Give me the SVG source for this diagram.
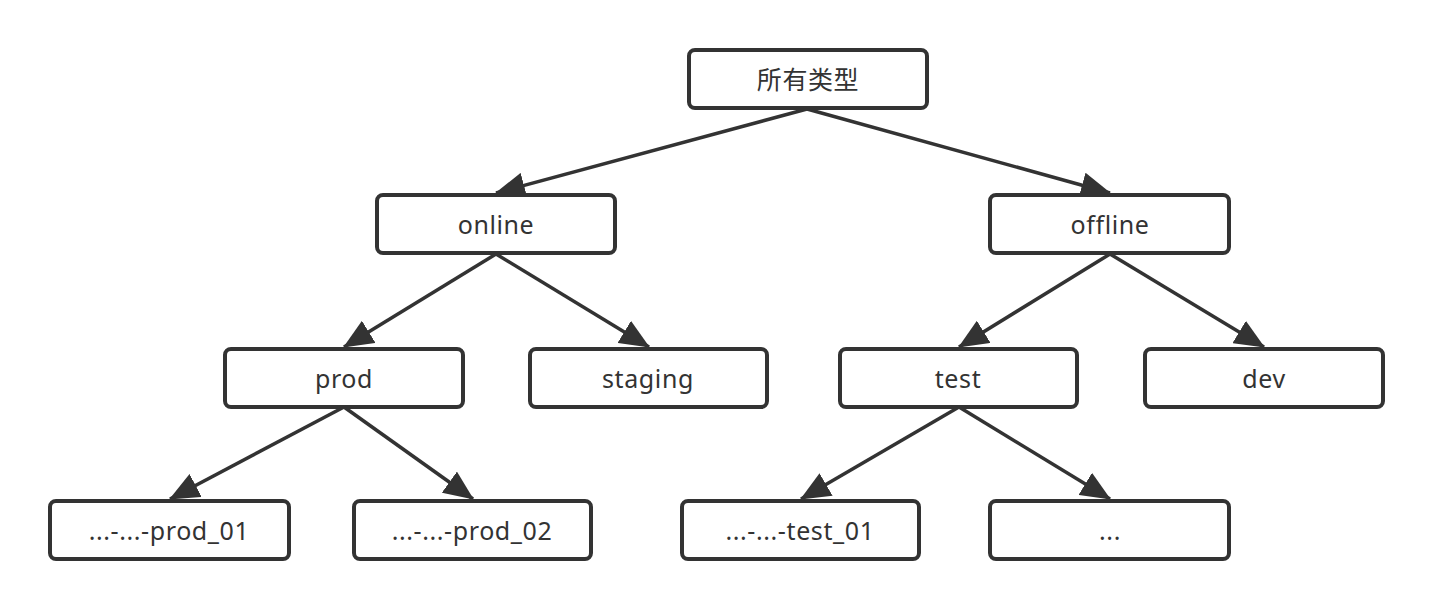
<svg xmlns="http://www.w3.org/2000/svg" width="1434" height="610" viewBox="0 0 1434 610">
<style>
.box{fill:#fff;stroke:#333;stroke-width:4}
.lbl{font-family:"Noto Sans","Noto Sans CJK SC",sans-serif;font-size:25px;letter-spacing:0.6px;fill:#333;text-anchor:middle;dominant-baseline:central}
.conn{stroke:#333;stroke-width:3.5;fill:none;marker-end:url(#arr)}
</style>
<defs>
<marker id="arr" markerUnits="userSpaceOnUse" markerWidth="30" markerHeight="26" viewBox="0 0 30 26" refX="29" refY="13" orient="auto">
<path d="M0,0 L30,13 L0,26 z" fill="#333"/>
</marker>
</defs>
<rect width="1434" height="610" fill="#fff"/>
<g id="connectors">
<line class="conn" x1="807" y1="109" x2="496" y2="193"/>
<line class="conn" x1="807" y1="109" x2="1110" y2="193"/>
<line class="conn" x1="496" y1="254" x2="344" y2="347"/>
<line class="conn" x1="496" y1="254" x2="649" y2="347"/>
<line class="conn" x1="1110" y1="254" x2="959" y2="347"/>
<line class="conn" x1="1110" y1="254" x2="1264" y2="347"/>
<line class="conn" x1="344" y1="407" x2="170" y2="499"/>
<line class="conn" x1="344" y1="407" x2="473" y2="499"/>
<line class="conn" x1="959" y1="407" x2="801" y2="499"/>
<line class="conn" x1="959" y1="407" x2="1110" y2="499"/>
</g>
<g id="root"><rect class="box" x="689" y="50" width="238" height="58" rx="6"/><text class="lbl" x="808" y="79">所有类型</text></g>
<g id="online"><rect class="box" x="377" y="195" width="238" height="58" rx="6"/><text class="lbl" x="496" y="224">online</text></g>
<g id="offline"><rect class="box" x="990" y="195" width="239" height="58" rx="6"/><text class="lbl" x="1110" y="224">offline</text></g>
<g id="prod"><rect class="box" x="225" y="349" width="238" height="58" rx="6"/><text class="lbl" x="344" y="378">prod</text></g>
<g id="staging"><rect class="box" x="530" y="349" width="237" height="58" rx="6"/><text class="lbl" x="648" y="378">staging</text></g>
<g id="test"><rect class="box" x="840" y="349" width="237" height="58" rx="6"/><text class="lbl" x="958" y="378">test</text></g>
<g id="dev"><rect class="box" x="1145" y="349" width="238" height="58" rx="6"/><text class="lbl" x="1264" y="378">dev</text></g>
<g id="prod_01"><rect class="box" x="50" y="501" width="239" height="58" rx="6"/><text class="lbl" x="169" y="530">...-...-prod_01</text></g>
<g id="prod_02"><rect class="box" x="354" y="501" width="237" height="58" rx="6"/><text class="lbl" x="472" y="530">...-...-prod_02</text></g>
<g id="test_01"><rect class="box" x="682" y="501" width="237" height="58" rx="6"/><text class="lbl" x="800" y="530">...-...-test_01</text></g>
<g id="more"><rect class="box" x="990" y="501" width="239" height="58" rx="6"/><text class="lbl" x="1110" y="530">...</text></g>
</svg>
